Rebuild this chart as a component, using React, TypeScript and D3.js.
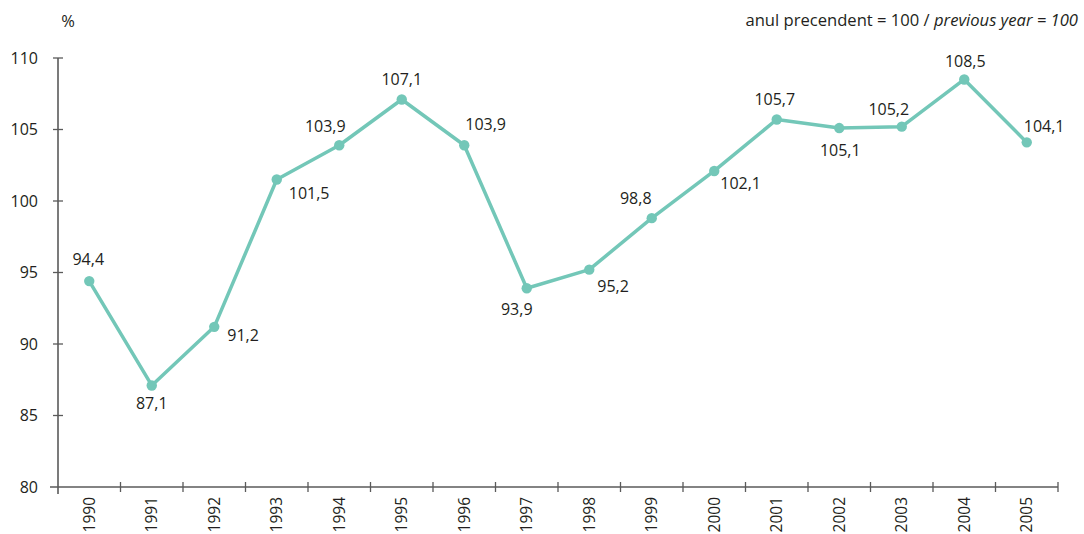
import React from "react";
import * as d3 from "d3";

const years = ["1990","1991","1992","1993","1994","1995","1996","1997","1998","1999","2000","2001","2002","2003","2004","2005"];
const values = [94.4, 87.1, 91.2, 101.5, 103.9, 107.1, 103.9, 93.9, 95.2, 98.8, 102.1, 105.7, 105.1, 105.2, 108.5, 104.1];
const valueLabels = ["94,4","87,1","91,2","101,5","103,9","107,1","103,9","93,9","95,2","98,8","102,1","105,7","105,1","105,2","108,5","104,1"];
const yTicks = [80, 85, 90, 95, 100, 105, 110];

// label placement relative to point: [dx, dy, anchor]
const labelOffsets: [number, number, string][] = [
  [-1, -16, "middle"],
  [0, 24, "middle"],
  [13, 14, "start"],
  [12, 19, "start"],
  [-14, -13, "middle"],
  [0, -14, "middle"],
  [1, -15, "start"],
  [-10, 27, "middle"],
  [8, 22, "start"],
  [-16, -14, "middle"],
  [6, 18, "start"],
  [-2, -14, "middle"],
  [1, 28, "middle"],
  [-13, -12, "middle"],
  [1, -12, "middle"],
  [-3, -10, "start"],
];

const W = 1084, H = 534;
const left = 58, right = 1058, top = 58, bottom = 487;
const color = "#73c7b8";
const textColor = "#231f20";
const axisColor = "#5a5a5a";
const font = "'Open Sans', 'Noto Sans', sans-serif";

export default function App() {
  const x = d3.scaleBand<string>().domain(years).range([left, right]).padding(0);
  const y = d3.scaleLinear().domain([80, 110]).range([bottom, top]);
  const cx = (i: number) => (x(years[i]) as number) + x.bandwidth() / 2;
  const line = d3.line<number>().x((_, i) => cx(i)).y((d) => y(d));
  const boundaries = years.map((yr) => (x(yr) as number) + x.bandwidth());

  return (
    <svg width={W} height={H} style={{ position: "absolute", left: 0, top: 0, background: "#fff" }} fontFamily={font}>
      <text x={68} y={27} fontSize={16.5} fill={textColor} textAnchor="middle">%</text>
      <text x={1078} y={26} fontSize={16.6} fill={textColor} textAnchor="end">
        anul precendent = 100 / <tspan fontStyle="italic">previous year = 100</tspan>
      </text>
      {/* y axis */}
      <line x1={left} x2={left} y1={top} y2={bottom + 7} stroke={axisColor} strokeWidth={1.6} />
      {yTicks.map((t) => (
        <g key={t}>
          {t !== 80 && <line x1={left - 5} x2={left + 5} y1={y(t)} y2={y(t)} stroke={axisColor} strokeWidth={1.3} />}
          <text x={38} y={y(t)} dy="0.35em" fontSize={16} fill={textColor} textAnchor="end">{t}</text>
        </g>
      ))}
      {/* x axis */}
      <line x1={left - 8} x2={right} y1={bottom} y2={bottom} stroke={axisColor} strokeWidth={1.6} />
      {boundaries.map((b, i) => (
        <line key={i} x1={b} x2={b} y1={bottom - 5} y2={bottom + 5} stroke={axisColor} strokeWidth={1.3} />
      ))}
      {years.map((yr, i) => (
        <text key={yr} transform={`translate(${cx(i) + 5.5},497) rotate(-90)`} fontSize={15.5} fill={textColor} textAnchor="end">{yr}</text>
      ))}
      {/* line */}
      <path d={line(values) as string} fill="none" stroke={color} strokeWidth={3.5} strokeLinejoin="round" />
      {values.map((v, i) => (
        <circle key={i} cx={cx(i)} cy={y(v)} r={5.2} fill={color} />
      ))}
      {values.map((v, i) => (
        <text key={"l" + i} x={cx(i) + labelOffsets[i][0]} y={y(v) + labelOffsets[i][1]} fontSize={16} fill={textColor} textAnchor={labelOffsets[i][2] as any}>
          {valueLabels[i]}
        </text>
      ))}
    </svg>
  );
}
